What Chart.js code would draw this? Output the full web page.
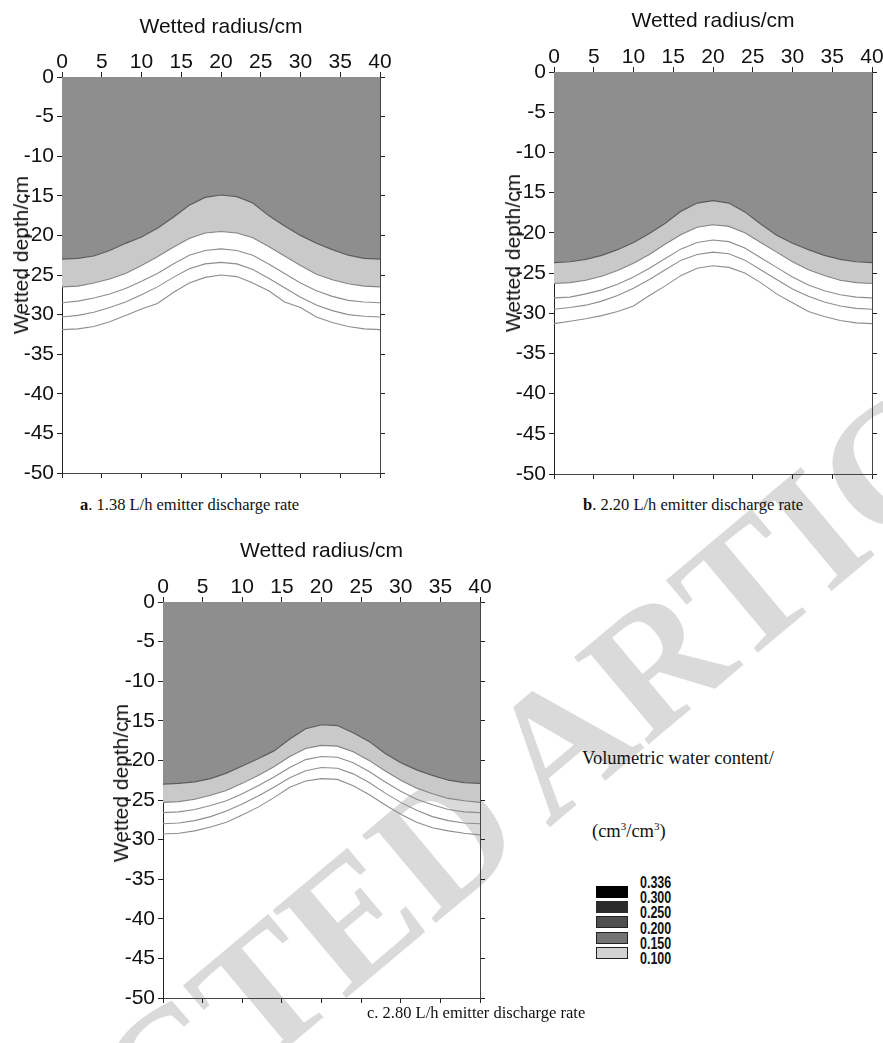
<!DOCTYPE html>
<html>
<head>
<meta charset="utf-8">
<script src="https://cdn.jsdelivr.net/npm/chart.js@4.4.0/dist/chart.umd.min.js"></script>
<style>
html,body{margin:0;padding:0;background:#fff;}
body{width:883px;height:1043px;position:relative;overflow:hidden;}
.wm{position:absolute;left:384px;top:890px;transform:translate(-50%,-50%) rotate(-40deg);font-family:"Liberation Serif","Times New Roman",serif;font-weight:bold;font-size:175px;line-height:1;color:#dadada;white-space:nowrap;word-spacing:-10px;}
canvas{position:absolute;}
.cap{position:absolute;font-family:"Liberation Serif","Times New Roman",serif;font-size:16.5px;line-height:20px;color:#111;white-space:nowrap;}
.ytitle{position:absolute;font-family:"Liberation Sans",Arial,sans-serif;font-size:21px;line-height:24px;color:#111;white-space:nowrap;transform:translate(-50%,-50%) rotate(-90deg);}
.lgt{position:absolute;font-family:"Liberation Serif","Times New Roman",serif;font-size:18.5px;line-height:22px;color:#111;white-space:nowrap;}
.lgt sup{font-size:11px;vertical-align:7px;line-height:0;}
.box{position:absolute;left:596px;width:32px;height:12px;box-sizing:border-box;}
.lab{position:absolute;left:640px;font-family:"Liberation Sans",Arial,sans-serif;font-weight:bold;font-size:16px;line-height:16px;color:#111;transform-origin:0 50%;transform:scaleX(0.78);white-space:nowrap;}
</style>
</head>
<body>
<div class="wm">RETRACTED ARTICLE</div>

<canvas id="pa" width="400" height="490" style="left:0px;top:0px"></canvas>
<canvas id="pb" width="443" height="490" style="left:440px;top:0px"></canvas>
<canvas id="pc" width="400" height="485" style="left:100px;top:530px"></canvas>

<div class="ytitle" style="left:21px;top:255px">Wetted depth/cm</div>
<div class="ytitle" style="left:513px;top:253px">Wetted depth/cm</div>
<div class="ytitle" style="left:121px;top:783px">Wetted depth/cm</div>

<div class="cap" style="left:80px;top:495px"><b>a</b>. 1.38 L/h emitter discharge rate</div>
<div class="cap" style="left:583px;top:495px"><b>b</b>. 2.20 L/h emitter discharge rate</div>
<div class="cap" style="left:367px;top:1003px">c. 2.80 L/h emitter discharge rate</div>

<div class="lgt" style="left:582px;top:747px">Volumetric water content/</div>
<div class="lgt" style="left:592px;top:820px">(cm<sup>3</sup>/cm<sup>3</sup>)</div>
<div id="legend"></div>

<script>
// ---------------- data ----------------
const radius = [0,2,4,6,8,10,12,14,16,18,20,22,24,26,28,30,32,34,36,38,40];
const xTickValues = [0,5,10,15,20,25,30,35,40];
const yTickValues = [0,-5,-10,-15,-20,-25,-30,-35,-40,-45,-50];

// panel a: 1.38 L/h
const a1 = [-23.0,-22.9,-22.6,-21.9,-21.0,-20.2,-19.1,-17.7,-16.2,-15.2,-14.9,-15.1,-15.9,-17.5,-18.8,-20.0,-21.0,-21.8,-22.5,-22.9,-23.0];
const a2 = [-26.5,-26.4,-26.0,-25.5,-24.8,-23.8,-22.7,-21.5,-20.4,-19.7,-19.5,-19.7,-20.3,-21.4,-22.6,-23.8,-24.9,-25.6,-26.1,-26.4,-26.5];
const a3 = [-28.5,-28.3,-27.9,-27.4,-26.7,-25.8,-24.8,-23.6,-22.5,-21.9,-21.7,-21.9,-22.5,-23.6,-24.8,-26.0,-27.0,-27.7,-28.2,-28.4,-28.5];
const a4 = [-30.3,-30.1,-29.7,-29.1,-28.4,-27.5,-26.5,-25.3,-24.2,-23.6,-23.4,-23.6,-24.3,-25.4,-26.6,-27.8,-28.8,-29.5,-30.0,-30.2,-30.3];
const a5 = [-31.9,-31.8,-31.5,-30.9,-30.1,-29.3,-28.6,-27.2,-26.0,-25.3,-25.0,-25.2,-26.0,-27.0,-28.4,-29.1,-30.3,-31.0,-31.5,-31.8,-31.9];

// panel b: 2.20 L/h
const b1 = [-23.7,-23.6,-23.3,-22.8,-22.1,-21.2,-20.1,-18.8,-17.3,-16.3,-16.0,-16.3,-17.4,-18.9,-20.3,-21.3,-22.1,-22.8,-23.3,-23.6,-23.7];
const b2 = [-26.3,-26.2,-25.9,-25.4,-24.7,-23.8,-22.7,-21.4,-20.2,-19.3,-19.0,-19.2,-20.0,-21.2,-22.4,-23.6,-24.6,-25.3,-25.9,-26.2,-26.3];
const b3 = [-28.1,-28.0,-27.6,-27.1,-26.4,-25.5,-24.4,-23.2,-22.0,-21.2,-20.9,-21.1,-21.9,-23.1,-24.3,-25.5,-26.5,-27.2,-27.7,-28.0,-28.1];
const b4 = [-29.5,-29.3,-29.0,-28.5,-27.8,-26.9,-25.8,-24.6,-23.4,-22.7,-22.4,-22.6,-23.4,-24.6,-25.8,-27.0,-27.9,-28.6,-29.1,-29.4,-29.5];
const b5 = [-31.3,-31.0,-30.7,-30.3,-29.8,-29.1,-27.8,-26.6,-25.3,-24.4,-24.1,-24.3,-25.0,-26.2,-27.6,-28.7,-29.8,-30.4,-30.9,-31.2,-31.3];

// panel c: 2.80 L/h
const c1 = [-23.0,-22.9,-22.7,-22.3,-21.6,-20.7,-19.8,-18.8,-17.3,-16.0,-15.5,-15.6,-16.5,-17.6,-19.1,-20.3,-21.2,-21.9,-22.5,-22.8,-22.9];
const c2 = [-25.3,-25.2,-24.9,-24.4,-23.8,-22.9,-21.9,-20.8,-19.5,-18.5,-18.1,-18.2,-18.9,-20.0,-21.3,-22.5,-23.5,-24.2,-24.8,-25.1,-25.3];
const c3 = [-26.6,-26.5,-26.2,-25.7,-25.1,-24.2,-23.2,-22.1,-20.9,-19.9,-19.5,-19.6,-20.3,-21.4,-22.7,-23.9,-24.9,-25.6,-26.2,-26.5,-26.6];
const c4 = [-28.0,-27.9,-27.6,-27.1,-26.4,-25.5,-24.5,-23.4,-22.2,-21.3,-20.9,-21.0,-21.7,-22.8,-24.1,-25.3,-26.3,-27.1,-27.6,-27.9,-28.0];
const c5 = [-29.3,-29.2,-28.9,-28.4,-27.8,-26.9,-25.9,-24.7,-23.4,-22.6,-22.3,-22.4,-23.2,-24.3,-25.6,-26.8,-27.8,-28.5,-28.9,-29.2,-29.4];

// legend
const legendLabels = ['0.336','0.300','0.250','0.200','0.150','0.100'];
const legendFills = ['#000000','#2b2b2b','#4f4f4f','#737373','#d2d2d2'];

// ---------------- drawing ----------------
const tickFont = {family:'"Liberation Sans", Arial, sans-serif', size:21};
const titleFont = {family:'"Liberation Sans", Arial, sans-serif', size:21};

function xy(vals){ return radius.map((r,i)=>({x:r,y:vals[i]})); }

function fitter(size, horizontal){
  return s => {
    if (horizontal) s.height = size; else s.width = size;
    s.paddingLeft = 0; s.paddingRight = 0; s.paddingTop = 0; s.paddingBottom = 0;
  };
}
function setTicks(vals){ return s => { s.ticks = vals.map(v=>({value:v})); }; }

function makePanel(id, curves, g){
  const gridOpt = {drawOnChartArea:false, drawTicks:true, tickLength:5, color:'#222', lineWidth:1};
  new Chart(document.getElementById(id), {
    type:'line',
    data:{
      datasets:[
        {data:xy(curves[0]), borderColor:'#5c5c5c', borderWidth:1.2, backgroundColor:'#8e8e8e', fill:'end', pointRadius:0, tension:0},
        {data:xy(curves[1]), borderColor:'#858585', borderWidth:1.1, backgroundColor:'#c9c9c9', fill:'-1', pointRadius:0, tension:0},
        {data:xy(curves[2]), borderColor:'#8e8e8e', borderWidth:1.1, fill:false, pointRadius:0, tension:0},
        {data:xy(curves[3]), borderColor:'#8e8e8e', borderWidth:1.1, fill:false, pointRadius:0, tension:0},
        {data:xy(curves[4]), borderColor:'#8e8e8e', borderWidth:1.1, fill:false, pointRadius:0, tension:0}
      ]
    },
    options:{
      responsive:false, animation:false, events:[],
      layout:{padding:0},
      plugins:{legend:{display:false}, tooltip:{enabled:false}},
      scales:{
        x:{type:'linear', position:'top', min:0, max:40,
           afterBuildTicks:setTicks(xTickValues),
           ticks:{font:tickFont, color:'#111', padding:-3, maxRotation:0, autoSkip:false},
           grid:gridOpt, border:{display:true, color:'#222', width:1},
           title:{display:true, text:'Wetted radius/cm', font:titleFont, color:'#111', padding:{top:g.titlePad, bottom:0}},
           afterFit:fitter(g.top, true)},
        x2:{type:'linear', position:'bottom', min:0, max:40,
           afterBuildTicks:setTicks(xTickValues),
           ticks:{display:false}, grid:gridOpt, border:{display:true, color:'#444', width:1},
           afterFit:fitter(g.bottom, true)},
        y:{type:'linear', position:'left', min:-50, max:0,
           afterBuildTicks:setTicks(yTickValues),
           ticks:{font:tickFont, color:'#111', padding:3, autoSkip:false},
           grid:gridOpt, border:{display:true, color:'#222', width:1},
           afterFit:fitter(g.left, false)},
        y2:{type:'linear', position:'right', min:-50, max:0,
           afterBuildTicks:setTicks(yTickValues),
           ticks:{display:false}, grid:gridOpt, border:{display:true, color:'#444', width:1},
           afterFit:fitter(g.right, false)}
      }
    }
  });
}

makePanel('pa', [a1,a2,a3,a4,a5], {left:62, right:20, top:77, bottom:17, titlePad:15});
makePanel('pb', [b1,b2,b3,b4,b5], {left:114, right:11, top:72, bottom:16, titlePad:9});
makePanel('pc', [c1,c2,c3,c4,c5], {left:63, right:20, top:72, bottom:17, titlePad:9});

// legend
const lg = document.getElementById('legend');
legendLabels.forEach((t,i)=>{
  const d = document.createElement('div');
  d.className = 'lab'; d.textContent = t;
  d.style.top = (875 + 15.2*i) + 'px';
  lg.appendChild(d);
});
legendFills.forEach((c,i)=>{
  const d = document.createElement('div');
  d.className = 'box';
  d.style.top = (886 + 15.2*i) + 'px';
  d.style.background = c;
  d.style.border = '1px solid ' + (i < 2 ? c : '#222');
  lg.appendChild(d);
});
</script>
</body>
</html>
